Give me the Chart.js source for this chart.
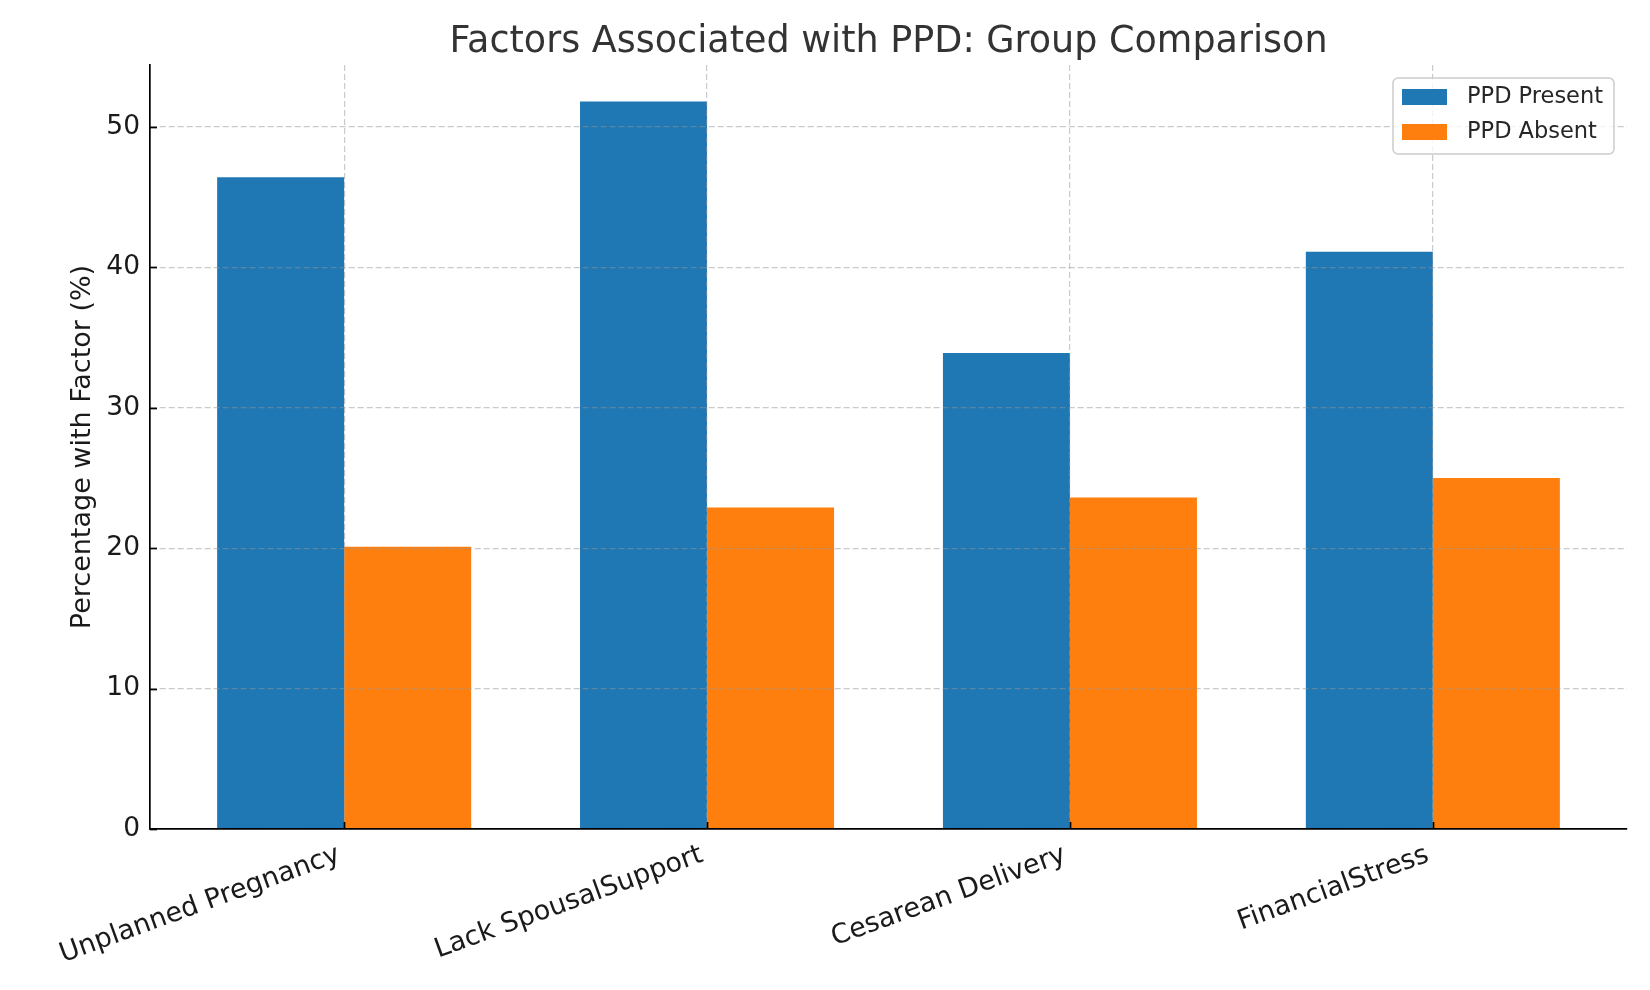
<!DOCTYPE html>
<html><head><meta charset="utf-8">
<script src="https://cdn.jsdelivr.net/npm/chart.js@4"></script>
<style>html,body{margin:0;padding:0;background:#fff}#wrap{width:1650px;height:990px}</style>
</head><body><div id="wrap"><canvas id="c" width="1650" height="990"></canvas></div>
<script>
const categories = ['Unplanned Pregnancy', 'Lack SpousalSupport', 'Cesarean Delivery', 'FinancialStress'];
const ppdPresent = [46.4, 51.8, 33.9, 41.1];
const ppdAbsent = [20.1, 22.9, 23.6, 25.0];
const seriesLabels = ['PPD Present', 'PPD Absent'];
const seriesColors = ['#1f77b4', '#ff7f0e'];
const yTicks = [0, 10, 20, 30, 40, 50];
const yMax = 54.4;
const chartTitle = 'Factors Associated with PPD: Group Comparison';
const yTitle = 'Percentage with Factor (%)';

const FONT = '"DejaVu Sans", sans-serif';

const overlay = {
  id: 'overlay',
  afterDraw(chart) {
    const ctx = chart.ctx, ca = chart.chartArea;
    ctx.save();
    // inward tick marks
    ctx.strokeStyle = '#000';
    ctx.lineWidth = 1.7;
    const ys = chart.scales.y, xs = chart.scales.x;
    ys.ticks.forEach(t => {
      const py = Math.round(ys.getPixelForValue(t.value)) + 0.5;
      ctx.beginPath(); ctx.moveTo(ca.left, py); ctx.lineTo(ca.left + 7, py); ctx.stroke();
    });
    xs.ticks.forEach(t => {
      const px = Math.round(xs.getPixelForValue(t.value)) + 0.5;
      ctx.beginPath(); ctx.moveTo(px, ca.bottom); ctx.lineTo(px, ca.bottom - 7); ctx.stroke();
    });
    // title
    ctx.fillStyle = '#333333';
    ctx.font = '36.5px ' + FONT;
    ctx.textAlign = 'center';
    ctx.textBaseline = 'alphabetic';
    ctx.fillText(chartTitle, (ca.left + ca.right) / 2, 52);
    // legend
    const bw = 221, bh = 76;
    const bx = ca.right - 13 - bw, by = ca.top + 13;
    ctx.beginPath();
    ctx.roundRect(bx, by, bw, bh, 5);
    ctx.fillStyle = 'rgba(255,255,255,0.8)';
    ctx.fill();
    ctx.strokeStyle = '#cccccc';
    ctx.lineWidth = 1.5;
    ctx.stroke();
    ctx.font = '22.5px ' + FONT;
    ctx.textAlign = 'left';
    ctx.textBaseline = 'middle';
    chart.data.datasets.forEach((ds, i) => {
      const ry = by + 11 + i * 35;
      ctx.fillStyle = ds.backgroundColor;
      ctx.fillRect(bx + 9, ry, 45, 16);
      ctx.fillStyle = '#262626';
      ctx.fillText(ds.label, bx + 74, ry + 8);
    });
    ctx.restore();
  }
};

const gridColor = 'rgba(150,150,150,0.5)';

new Chart(document.getElementById('c'), {
  type: 'bar',
  data: {
    datasets: [
      { label: seriesLabels[0], data: ppdPresent.map((v, i) => ({ x: i, y: v })), backgroundColor: seriesColors[0], categoryPercentage: 0.7, barPercentage: 1.0, borderWidth: 0 },
      { label: seriesLabels[1], data: ppdAbsent.map((v, i) => ({ x: i, y: v })), backgroundColor: seriesColors[1], categoryPercentage: 0.7, barPercentage: 1.0, borderWidth: 0 }
    ]
  },
  options: {
    responsive: false,
    devicePixelRatio: 1,
    animation: false,
    layout: { padding: { top: 65, right: 23, bottom: 0, left: 0 } },
    plugins: { legend: { display: false }, title: { display: false }, tooltip: { enabled: false } },
    scales: {
      x: {
        type: 'linear',
        offset: false,
        min: -0.535,
        max: 3.535,
        afterBuildTicks: s => { s.ticks = categories.map((_, i) => ({ value: i })); },
        afterFit: s => { s.height = 161; },
        ticks: {
          autoSkip: false,
          minRotation: 20,
          maxRotation: 20,
          padding: 10,
          labelOffset: -5,
          color: '#1a1a1a',
          font: { family: FONT, size: 27 },
          callback: v => categories[Math.round(v)]
        },
        grid: { color: gridColor, lineWidth: 1.2, drawTicks: false, offset: false, z: 1 },
        border: { display: true, color: '#000', width: 1.7, dash: [6, 3], z: 2 }
      },
      y: {
        min: 0,
        max: yMax,
        afterBuildTicks: s => { s.ticks = yTicks.map(v => ({ value: v })); },
        afterFit: s => { s.width = 150; },
        ticks: { padding: 10, color: '#1a1a1a', font: { family: FONT, size: 26.5 } },
        grid: { color: gridColor, lineWidth: 1.2, drawTicks: false, z: 1 },
        border: { display: true, color: '#000', width: 1.7, dash: [6, 3], z: 2 },
        title: { display: true, text: yTitle, color: '#1a1a1a', font: { family: FONT, size: 27 }, padding: { top: 67, bottom: 0 } }
      }
    }
  },
  plugins: [overlay]
});
</script></body></html>
